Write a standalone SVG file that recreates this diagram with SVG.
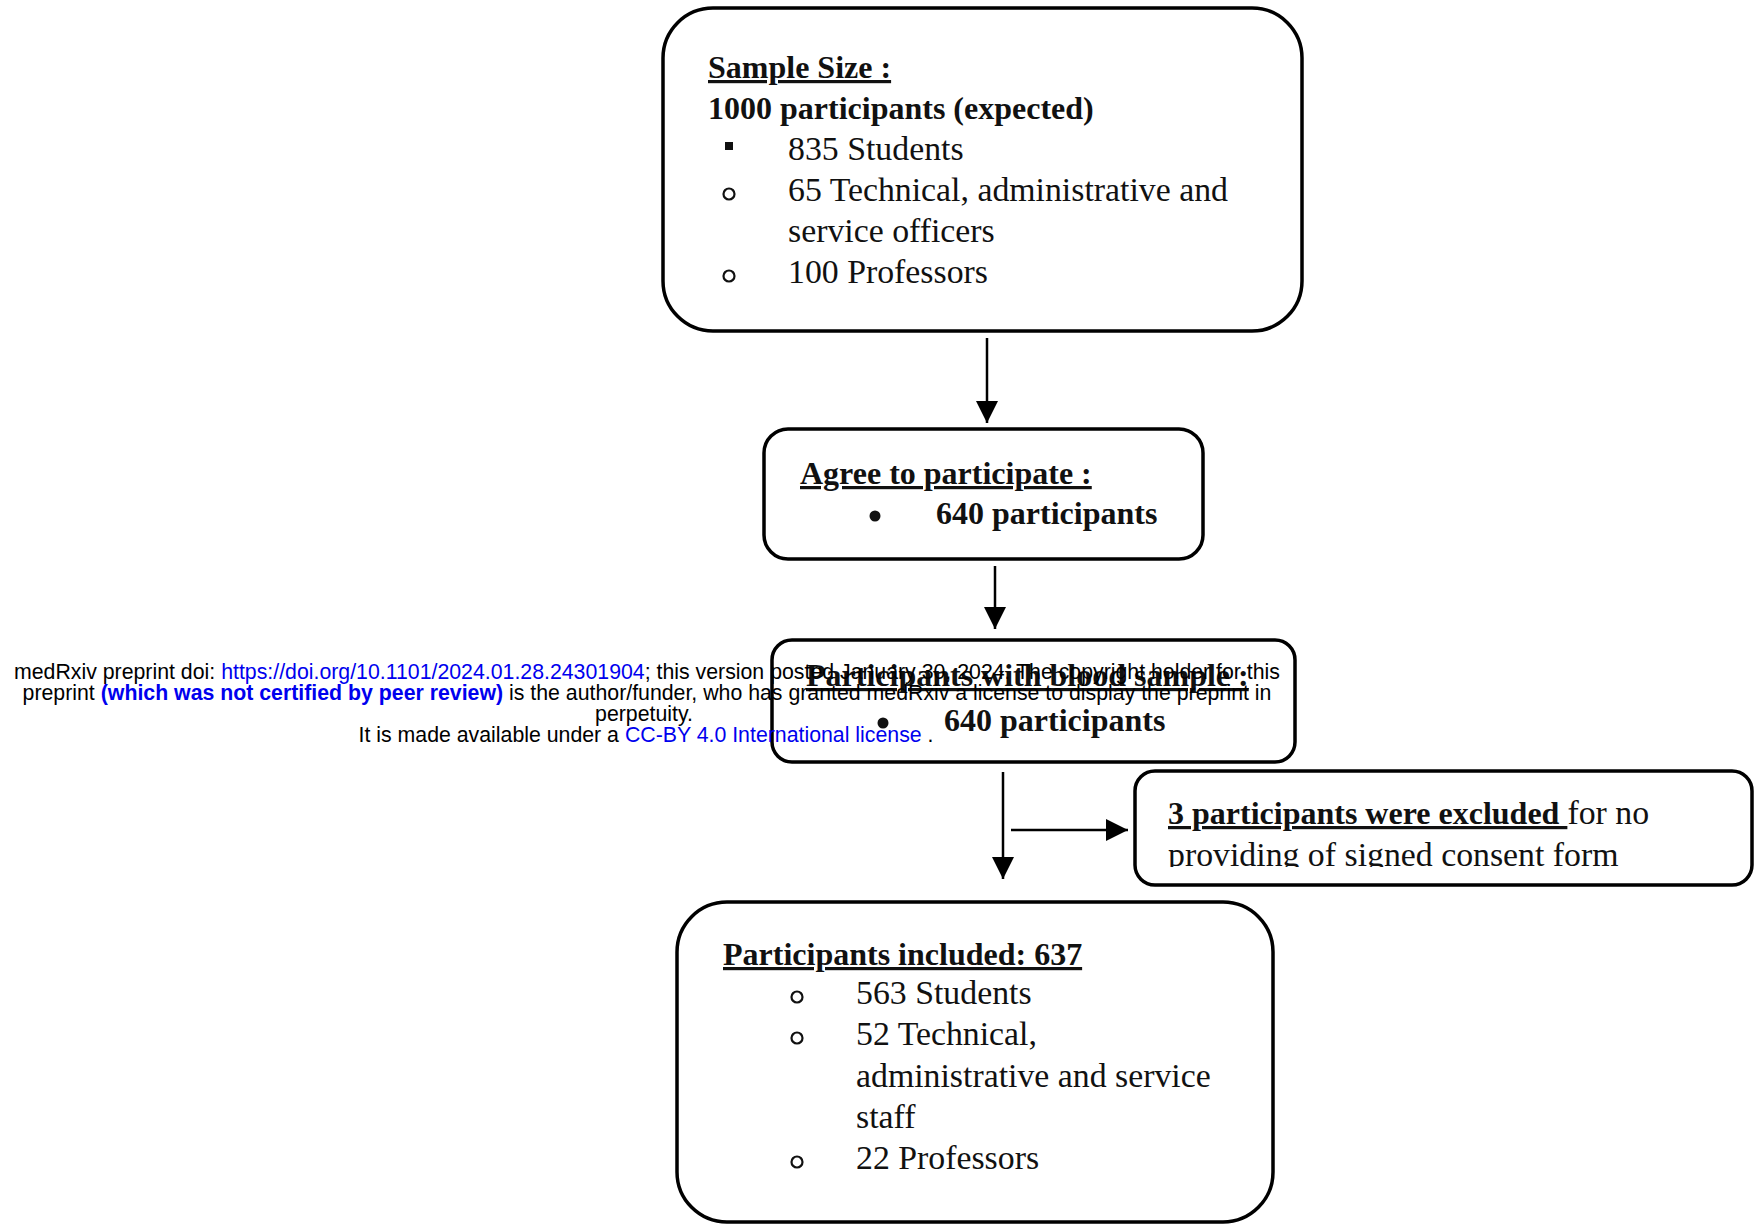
<svg xmlns="http://www.w3.org/2000/svg" width="1755" height="1227" viewBox="0 0 1755 1227">
<style>
.box{fill:#fff;stroke:#000;stroke-width:3.5}
.t{font-family:"Liberation Serif",serif;font-size:33.8px;fill:#111}
.b{font-weight:bold;font-size:32px}
.u{text-decoration:underline}
.conn{stroke:#000;stroke-width:2.5;fill:none}
.ob{fill:none;stroke:#111;stroke-width:2.2}
.wm{font-family:"Liberation Sans",Arial,sans-serif;font-size:21.3px;fill:#000}
.lk{fill:#0000ee}
</style>
<defs>
<marker id="ah2" viewBox="0 0 10 10" refX="10" refY="5" markerWidth="9" markerHeight="9" orient="auto">
<path d="M0,0 L10,5 L0,10 z" fill="#000"/>
</marker>
<clipPath id="c4"><rect x="1135" y="770" width="620" height="97"/></clipPath>
</defs>

<g id="connectors">
<line class="conn" x1="987" y1="338" x2="987" y2="423" marker-end="url(#ah2)"/>
<line class="conn" x1="995" y1="566" x2="995" y2="629" marker-end="url(#ah2)"/>
<line class="conn" x1="1003" y1="772" x2="1003" y2="879" marker-end="url(#ah2)"/>
<line class="conn" x1="1011" y1="830" x2="1128" y2="830" marker-end="url(#ah2)"/>
</g>

<g id="node-sample">
<rect class="box" x="663" y="8" width="639" height="323" rx="50"/>
<text class="t b u" x="708" y="78">Sample Size :</text>
<text class="t b" x="708" y="119">1000 participants (expected)</text>
<rect x="725" y="142" width="8" height="8" fill="#111"/>
<text class="t" x="788" y="160">835 Students</text>
<circle class="ob" cx="729" cy="194" r="5.5"/>
<text class="t" x="788" y="201">65 Technical, administrative and</text>
<text class="t" x="788" y="242">service officers</text>
<circle class="ob" cx="729" cy="276" r="5.5"/>
<text class="t" x="788" y="283">100 Professors</text>
</g>

<g id="node-agree">
<rect class="box" x="764" y="429" width="439" height="130" rx="24"/>
<text class="t b u" x="800" y="484">Agree to participate :</text>
<circle cx="875" cy="516" r="5.5" fill="#111"/>
<text class="t b" x="936" y="524">640 participants</text>
</g>

<g id="node-blood">
<rect class="box" x="772" y="640" width="523" height="122" rx="20"/>
<text class="t b u" x="806" y="686">Participants with blood sample :</text>
<circle cx="883" cy="723" r="5.5" fill="#111"/>
<text class="t b" x="944" y="731">640 participants</text>
</g>

<g id="node-excluded">
<rect class="box" x="1135" y="771" width="617" height="114" rx="20"/>
<g clip-path="url(#c4)">
<text class="t" x="1168" y="824"><tspan class="b u">3 participants were excluded </tspan>for no</text>
<text class="t" x="1168" y="866">providing of signed consent form</text>
</g>
</g>

<g id="node-included">
<rect class="box" x="677" y="902" width="596" height="320" rx="50"/>
<text class="t b u" x="723" y="965">Participants included: 637</text>
<circle class="ob" cx="797" cy="997" r="5.5"/>
<text class="t" x="856" y="1004">563 Students</text>
<circle class="ob" cx="797" cy="1038" r="5.5"/>
<text class="t" x="856" y="1045">52 Technical,</text>
<text class="t" x="856" y="1087">administrative and service</text>
<text class="t" x="856" y="1128">staff</text>
<circle class="ob" cx="797" cy="1162" r="5.5"/>
<text class="t" x="856" y="1169">22 Professors</text>
</g>

<g id="watermark">
<text class="wm" x="647" y="679" text-anchor="middle">medRxiv preprint doi: <tspan class="lk">https://doi.org/10.1101/2024.01.28.24301904</tspan>; this version posted January 30, 2024. The copyright holder for this</text>
<text class="wm" x="647" y="700" text-anchor="middle">preprint  <tspan class="lk" font-weight="bold">(which was not certified by peer review)</tspan> is the author/funder, who has granted medRxiv a license to display the preprint in</text>
<text class="wm" x="644" y="721" text-anchor="middle">perpetuity.</text>
<text class="wm" x="646" y="742" text-anchor="middle">It is made available under a <tspan class="lk">CC-BY 4.0 International license</tspan> .</text>
</g>
</svg>
